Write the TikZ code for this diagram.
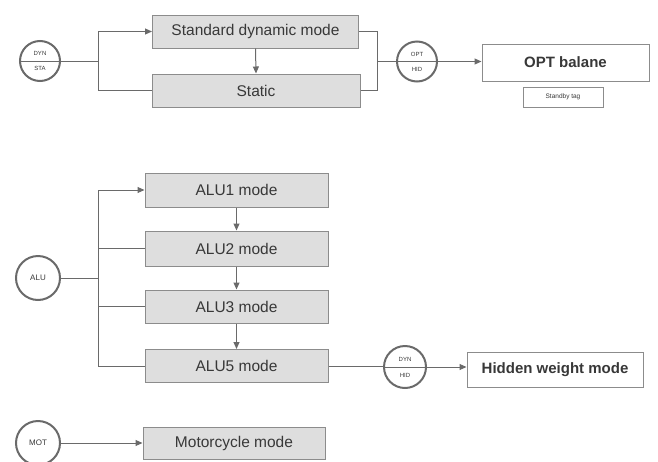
\documentclass[tikz,border=0pt]{standalone}
\usepackage{fontspec}
\setmainfont{Liberation Sans}
\usetikzlibrary{arrows.meta}
\definecolor{ln}{HTML}{6A6A6A}
\definecolor{bx}{HTML}{8C8C8C}
\definecolor{fl}{HTML}{DEDEDE}
\definecolor{tx}{HTML}{383838}
\tikzset{
  modebox/.style={draw=bx, line width=1pt, fill=fl, text=tx, font=\fontsize{15.5}{17}\selectfont, inner sep=0pt},
  whitebox/.style={draw=bx, line width=1pt, fill=white, text=tx, font=\bfseries\fontsize{15}{17}\selectfont, inner sep=0pt},
  tagbox/.style={draw=bx, line width=0.8pt, fill=white, text=tx, font=\fontsize{6.5}{7}\selectfont, inner sep=0pt, minimum width=80pt, minimum height=20pt},
  ring/.style={circle, draw=ln, line width=2pt, fill=white, text=tx, inner sep=0pt},
  small/.style={text=tx, font=\fontsize{6}{7}\selectfont, inner sep=0pt},
  conn/.style={draw=ln, line width=1pt},
  arr/.style={conn, -{Triangle[length=7pt,width=6pt]}},
}
\begin{document}
\begin{tikzpicture}[x=1pt,y=-1pt]
\useasboundingbox (0,0) rectangle (658,461);
% top group
\node[modebox, minimum width=206pt, minimum height=33pt] (std) at (255.5,31.5) {Standard dynamic mode};
\node[modebox, minimum width=208pt, minimum height=33pt] (static) at (256,90.5) {Static};
\node[ring, minimum size=40pt] (dynsta) at (40,61) {};
\draw[draw=ln, line width=1pt] (dynsta.west) -- (dynsta.east);
\node[small] (dynstaA) at (40,53.5) {DYN};
\node[small] (dynstaB) at (40,68.5) {STA};
\coordinate (j1) at (98,61);
\coordinate (j2) at (377,61);
\draw[conn] (dynsta.east) -- (j1);
\draw[arr] (j1) |- (std.west);
\draw[conn] (j1) |- (static.west);
\draw[arr] (std.south) -- (static.north);
\draw[conn] (std.east) -| (j2);
\draw[conn] (static.east) -| (j2);
\node[ring, minimum size=40pt] (opthid) at (417,61.5) {};
\draw[draw=ln, line width=1pt] (opthid.west) -- (opthid.east);
\node[small] (opthidA) at (417,54) {OPT};
\node[small] (opthidB) at (417,69) {HID};
\draw[conn] (j2) -- (j2 -| opthid.west);
\node[whitebox, minimum width=167pt, minimum height=37pt] (opt) at (565.5,62.5) {OPT balane};
\draw[arr] (opthid.east) -- (opthid.east -| opt.west);
\node[tagbox] (tag) at (563,97) {Standby tag};
% ALU group
\node[modebox, minimum width=183pt, minimum height=34pt] (alu1) at (236.5,190) {ALU1 mode};
\node[modebox, minimum width=183pt, minimum height=35pt] (alu2) at (236.5,248.5) {ALU2 mode};
\node[modebox, minimum width=183pt, minimum height=33pt] (alu3) at (236.5,306.5) {ALU3 mode};
\node[modebox, minimum width=183pt, minimum height=33pt] (alu5) at (236.5,366) {ALU5 mode};
\node[ring, minimum size=44pt, font=\fontsize{8}{9}\selectfont] (alu) at (38,278) {ALU};
\coordinate (t0) at (98,278);
\coordinate (t1) at (98,190);
\coordinate (t5) at (98,366);
\draw[conn] (alu.east) -- (t0);
\draw[conn] (t1) -- (t5);
\draw[arr] (t1) -- (alu1.west);
\draw[conn] (t1 |- alu2.west) -- (alu2.west);
\draw[conn] (t1 |- alu3.west) -- (alu3.west);
\draw[conn] (t5) -- (alu5.west);
\draw[arr] (alu1.south) -- (alu2.north);
\draw[arr] (alu2.south) -- (alu3.north);
\draw[arr] (alu3.south) -- (alu5.north);
\node[ring, minimum size=42pt] (dynhid) at (405,367) {};
\draw[draw=ln, line width=1pt] (dynhid.west) -- (dynhid.east);
\node[small] (dynhidA) at (405,359) {DYN};
\node[small] (dynhidB) at (405,375) {HID};
\draw[conn] (alu5.east) -- (alu5.east -| dynhid.west);
\node[whitebox, minimum width=176pt, minimum height=35pt] (hidden) at (555,369.5) {Hidden weight mode};
\draw[arr] (dynhid.east) -- (dynhid.east -| hidden.west);
% MOT
\node[ring, minimum size=44pt, font=\fontsize{8}{9}\selectfont] (mot) at (38,443) {MOT};
\node[modebox, minimum width=182pt, minimum height=32pt] (moto) at (234,443) {Motorcycle mode};
\draw[arr] (mot.east) -- (moto.west);
\end{tikzpicture}
\end{document}
